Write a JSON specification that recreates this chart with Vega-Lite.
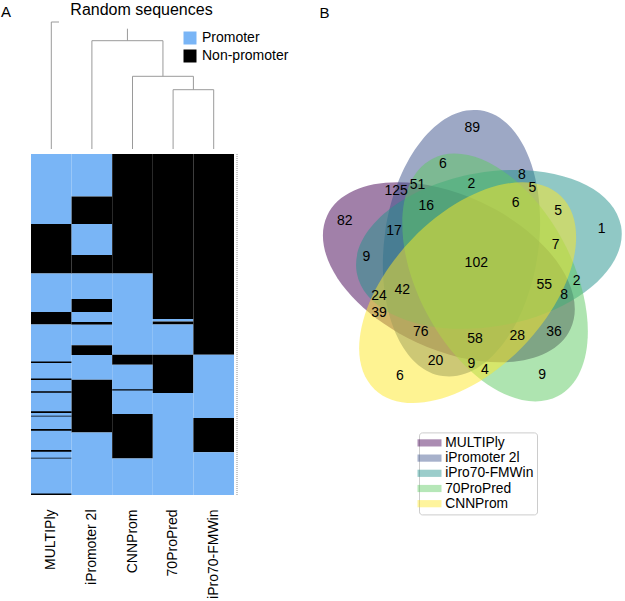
{
  "$schema": "https://vega.github.io/schema/vega-lite/v6.json",
  "background": "white",
  "padding": {"left": 0, "top": 2, "right": 0, "bottom": 0},
  "bounds": "flush",
  "spacing": 286,
  "resolve": {"scale": {"color": "independent"}, "legend": {"color": "independent"}},
  "config": {"font": "Liberation Sans", "view": {"stroke": null}},
  "datasets": {
    "heat": [
      {"model": "MULTIPly", "start": 0, "end": 70, "cls": "Promoter"},
      {"model": "MULTIPly", "start": 70, "end": 119.5, "cls": "Non-promoter"},
      {"model": "MULTIPly", "start": 119.5, "end": 158, "cls": "Promoter"},
      {"model": "MULTIPly", "start": 158, "end": 170.5, "cls": "Non-promoter"},
      {"model": "MULTIPly", "start": 170.5, "end": 341, "cls": "Promoter"},
      {"model": "MULTIPly", "start": 207.5, "end": 209, "cls": "Non-promoter"},
      {"model": "MULTIPly", "start": 224.5, "end": 226, "cls": "Non-promoter"},
      {"model": "MULTIPly", "start": 237.3, "end": 238.8, "cls": "Non-promoter"},
      {"model": "MULTIPly", "start": 257.3, "end": 259, "cls": "Non-promoter"},
      {"model": "MULTIPly", "start": 261.7, "end": 262.4, "cls": "Non-promoter"},
      {"model": "MULTIPly", "start": 275, "end": 276.7, "cls": "Non-promoter"},
      {"model": "MULTIPly", "start": 296, "end": 297.7, "cls": "Non-promoter"},
      {"model": "MULTIPly", "start": 303.7, "end": 304.4, "cls": "Non-promoter"},
      {"model": "MULTIPly", "start": 339.5, "end": 341, "cls": "Non-promoter"},
      {"model": "iPromoter 2l", "start": 0, "end": 42.5, "cls": "Promoter"},
      {"model": "iPromoter 2l", "start": 42.5, "end": 70, "cls": "Non-promoter"},
      {"model": "iPromoter 2l", "start": 70, "end": 101, "cls": "Promoter"},
      {"model": "iPromoter 2l", "start": 101, "end": 119.5, "cls": "Non-promoter"},
      {"model": "iPromoter 2l", "start": 119.5, "end": 145, "cls": "Promoter"},
      {"model": "iPromoter 2l", "start": 145, "end": 158, "cls": "Non-promoter"},
      {"model": "iPromoter 2l", "start": 158, "end": 168, "cls": "Promoter"},
      {"model": "iPromoter 2l", "start": 168, "end": 170.7, "cls": "Non-promoter"},
      {"model": "iPromoter 2l", "start": 170.7, "end": 191.3, "cls": "Promoter"},
      {"model": "iPromoter 2l", "start": 191.3, "end": 201, "cls": "Non-promoter"},
      {"model": "iPromoter 2l", "start": 201, "end": 225.7, "cls": "Promoter"},
      {"model": "iPromoter 2l", "start": 225.7, "end": 278.5, "cls": "Non-promoter"},
      {"model": "iPromoter 2l", "start": 278.5, "end": 341, "cls": "Promoter"},
      {"model": "CNNProm", "start": 0, "end": 119.5, "cls": "Non-promoter"},
      {"model": "CNNProm", "start": 119.5, "end": 200.7, "cls": "Promoter"},
      {"model": "CNNProm", "start": 200.7, "end": 210.7, "cls": "Non-promoter"},
      {"model": "CNNProm", "start": 210.7, "end": 260, "cls": "Promoter"},
      {"model": "CNNProm", "start": 260, "end": 304.5, "cls": "Non-promoter"},
      {"model": "CNNProm", "start": 304.5, "end": 341, "cls": "Promoter"},
      {"model": "CNNProm", "start": 235.3, "end": 236.5, "cls": "Non-promoter"},
      {"model": "70ProPred", "start": 0, "end": 165, "cls": "Non-promoter"},
      {"model": "70ProPred", "start": 165, "end": 167.5, "cls": "Promoter"},
      {"model": "70ProPred", "start": 167.5, "end": 170.5, "cls": "Non-promoter"},
      {"model": "70ProPred", "start": 170.5, "end": 200.7, "cls": "Promoter"},
      {"model": "70ProPred", "start": 200.7, "end": 239, "cls": "Non-promoter"},
      {"model": "70ProPred", "start": 239, "end": 341, "cls": "Promoter"},
      {"model": "iPro70-FMWin", "start": 0, "end": 200.7, "cls": "Non-promoter"},
      {"model": "iPro70-FMWin", "start": 200.7, "end": 264, "cls": "Promoter"},
      {"model": "iPro70-FMWin", "start": 264, "end": 298.3, "cls": "Non-promoter"},
      {"model": "iPro70-FMWin", "start": 298.3, "end": 341, "cls": "Promoter"}
    ],
    "sidebar": [{"model": "iPro70-FMWin", "start": 0, "end": 341}],
    "dendro": [
      {"x": 0.5, "x2": 0.5, "h": 0, "h2": 127},
      {"x": 0.5, "x2": 0.69, "h": 127, "h2": 127},
      {"x": 2.375, "x2": 2.375, "h": 108.3, "h2": 120.3},
      {"x": 1.5, "x2": 3.25, "h": 108.3, "h2": 108.3},
      {"x": 1.5, "x2": 1.5, "h": 0, "h2": 108.3},
      {"x": 3.25, "x2": 3.25, "h": 72.7, "h2": 108.3},
      {"x": 2.5, "x2": 4.0, "h": 72.7, "h2": 72.7},
      {"x": 2.5, "x2": 2.5, "h": 0, "h2": 72.7},
      {"x": 4.0, "x2": 4.0, "h": 59.3, "h2": 72.7},
      {"x": 3.5, "x2": 4.5, "h": 59.3, "h2": 59.3},
      {"x": 3.5, "x2": 3.5, "h": 0, "h2": 59.3},
      {"x": 4.5, "x2": 4.5, "h": 0, "h2": 59.3}
    ],
    "sets": [
      {"set": "MULTIPly", "cx": 0.428, "cy": 0.449},
      {"set": "iPromoter 2l", "cx": 0.469, "cy": 0.543},
      {"set": "iPro70-FMWin", "cx": 0.558, "cy": 0.523},
      {"set": "70ProPred", "cx": 0.578, "cy": 0.432},
      {"set": "CNNProm", "cx": 0.489, "cy": 0.383}
    ],
    "counts": [
      {"n": "89", "x": 0.504, "y": 0.916},
      {"n": "6", "x": 0.409, "y": 0.798},
      {"n": "8", "x": 0.665, "y": 0.763},
      {"n": "2", "x": 0.501, "y": 0.736},
      {"n": "5", "x": 0.699, "y": 0.722},
      {"n": "125", "x": 0.257, "y": 0.711},
      {"n": "51", "x": 0.326, "y": 0.730},
      {"n": "6", "x": 0.645, "y": 0.672},
      {"n": "16", "x": 0.355, "y": 0.663},
      {"n": "5", "x": 0.783, "y": 0.648},
      {"n": "82", "x": 0.090, "y": 0.614},
      {"n": "1", "x": 0.924, "y": 0.590},
      {"n": "17", "x": 0.250, "y": 0.582},
      {"n": "7", "x": 0.775, "y": 0.538},
      {"n": "9", "x": 0.160, "y": 0.498},
      {"n": "102", "x": 0.517, "y": 0.479},
      {"n": "2", "x": 0.843, "y": 0.420},
      {"n": "55", "x": 0.738, "y": 0.407},
      {"n": "42", "x": 0.277, "y": 0.391},
      {"n": "24", "x": 0.201, "y": 0.372},
      {"n": "8", "x": 0.802, "y": 0.374},
      {"n": "39", "x": 0.201, "y": 0.318},
      {"n": "76", "x": 0.337, "y": 0.256},
      {"n": "36", "x": 0.769, "y": 0.256},
      {"n": "58", "x": 0.513, "y": 0.232},
      {"n": "28", "x": 0.650, "y": 0.242},
      {"n": "20", "x": 0.385, "y": 0.161},
      {"n": "9", "x": 0.501, "y": 0.153},
      {"n": "4", "x": 0.545, "y": 0.132},
      {"n": "6", "x": 0.269, "y": 0.113},
      {"n": "9", "x": 0.731, "y": 0.117}
    ]
  },
  "hconcat": [
    {
      "bounds": "flush",
      "spacing": 5,
      "vconcat": [
        {
          "width": 203,
          "height": 129,
          "title": {"text": "Random sequences", "fontSize": 16, "fontWeight": "normal", "color": "black", "anchor": "middle", "frame": "group", "dx": 9, "offset": -11, "baseline": "alphabetic"},
          "data": {"name": "dendro"},
          "mark": {"type": "rule", "color": "#9a9a9a", "strokeWidth": 1},
          "encoding": {
            "x": {"field": "x", "type": "quantitative", "scale": {"domain": [0, 5], "nice": false, "zero": false}, "axis": null},
            "x2": {"field": "x2"},
            "y": {"field": "h", "type": "quantitative", "scale": {"domain": [0, 129], "nice": false}, "axis": null},
            "y2": {"field": "h2"}
          }
        },
        {
          "width": 203,
          "height": 341,
          "layer": [
            {
              "data": {"name": "heat"},
              "mark": {"type": "rect", "strokeWidth": 0},
              "encoding": {
                "x": {"field": "model", "type": "nominal", "sort": ["MULTIPly", "iPromoter 2l", "CNNProm", "70ProPred", "iPro70-FMWin"], "scale": {"domain": ["MULTIPly", "iPromoter 2l", "CNNProm", "70ProPred", "iPro70-FMWin"], "paddingInner": 0, "paddingOuter": 0},
                  "axis": {"title": null, "orient": "bottom", "labelAngle": 270, "ticks": false, "domain": false, "labelPadding": 14, "labelFontSize": 14, "labelColor": "black"}},
                "y": {"field": "start", "type": "quantitative", "scale": {"domain": [0, 341], "reverse": true, "nice": false, "zero": false},
                  "axis": {"title": "A", "labels": false, "ticks": false, "domain": false, "grid": false, "titleAngle": 0, "titleX": -25.5, "titleY": -138, "titleAlign": "center", "titleBaseline": "alphabetic", "titleFontSize": 15, "titleFontWeight": "normal", "titleColor": "black"}},
                "y2": {"field": "end"},
                "color": {"field": "cls", "type": "nominal", "scale": {"domain": ["Promoter", "Non-promoter"], "range": ["#79b5f6", "#000000"]},
                  "legend": {"title": null, "orient": "none", "legendX": 152, "legendY": 11, "symbolType": "square", "symbolSize": 169, "symbolStrokeWidth": 0, "symbolOpacity": 1, "labelFontSize": 14, "labelOffset": 5, "rowPadding": 4, "padding": 0, "labelColor": "black"}}
              }
            },
            {
              "data": {"name": "sidebar"},
              "mark": {"type": "rule", "color": "#c8c8c8", "strokeWidth": 2, "strokeDash": [1, 1], "xOffset": 3},
              "encoding": {
                "x": {"field": "model", "type": "nominal", "bandPosition": 1, "sort": ["MULTIPly", "iPromoter 2l", "CNNProm", "70ProPred", "iPro70-FMWin"]},
                "y": {"field": "start", "type": "quantitative"},
                "y2": {"field": "end"}
              }
            }
          ]
        }
      ]
    },
    {
      "width": 305,
      "height": 391,
      "encoding": {
        "x": {"field": "cx", "type": "quantitative", "scale": {"domain": [0, 0.99], "nice": false, "zero": false}, "axis": null},
        "y": {"field": "cy", "type": "quantitative", "scale": {"domain": [0, 1.2654], "nice": false, "zero": false},
          "axis": {"title": "B", "labels": false, "ticks": false, "domain": false, "grid": false, "titleAngle": 0, "titleX": 7, "titleY": -2.7, "titleAlign": "center", "titleBaseline": "alphabetic", "titleFontSize": 15, "titleFontWeight": "normal", "titleColor": "black"}}
      },
      "layer": [
        {
          "data": {"name": "sets"},
          "transform": [{"filter": "datum.set === 'MULTIPly'"}],
          "mark": {"type": "point", "shape": "M 1 0 C 1 0.3174 0.5523 0.5747 0 0.5747 C -0.5523 0.5747 -1 0.3174 -1 0 C -1 -0.3174 -0.5523 -0.5747 0 -0.5747 C 0.5523 -0.5747 1 -0.3174 1 0 Z", "size": 72039, "angle": 25, "filled": true, "fillOpacity": 0.5, "strokeWidth": 0},
          "encoding": {
            "color": {"field": "set", "type": "nominal", "scale": {"domain": ["MULTIPly", "iPromoter 2l", "iPro70-FMWin", "70ProPred", "CNNProm"], "range": ["#440154", "#3b528b", "#21918c", "#5ec962", "#fde725"]},
              "legend": {"title": null, "orient": "none", "legendX": 102, "legendY": 412.4, "symbolType": "M -1.6 -0.48 H 1.6 V 0.48 H -1.6 Z", "symbolSize": 225, "symbolOpacity": 0.45, "symbolStrokeWidth": 0, "labelFontSize": 13.8, "labelOffset": 8.2, "rowPadding": 0.2, "padding": 3, "strokeColor": "#cccccc", "fillColor": "white", "cornerRadius": 3, "labelColor": "black"}}
          }
        },
        {
          "data": {"name": "sets"},
          "transform": [{"filter": "datum.set === 'iPromoter 2l'"}],
          "mark": {"type": "point", "shape": "M 1 0 C 1 0.3174 0.5523 0.5747 0 0.5747 C -0.5523 0.5747 -1 0.3174 -1 0 C -1 -0.3174 -0.5523 -0.5747 0 -0.5747 C 0.5523 -0.5747 1 -0.3174 1 0 Z", "size": 72039, "angle": 98, "filled": true, "fillOpacity": 0.5, "strokeWidth": 0},
          "encoding": {"color": {"field": "set", "type": "nominal"}}
        },
        {
          "data": {"name": "sets"},
          "transform": [{"filter": "datum.set === 'iPro70-FMWin'"}],
          "mark": {"type": "point", "shape": "M 1 0 C 1 0.3174 0.5523 0.5747 0 0.5747 C -0.5523 0.5747 -1 0.3174 -1 0 C -1 -0.3174 -0.5523 -0.5747 0 -0.5747 C 0.5523 -0.5747 1 -0.3174 1 0 Z", "size": 72039, "angle": 170, "filled": true, "fillOpacity": 0.5, "strokeWidth": 0},
          "encoding": {"color": {"field": "set", "type": "nominal"}}
        },
        {
          "data": {"name": "sets"},
          "transform": [{"filter": "datum.set === '70ProPred'"}],
          "mark": {"type": "point", "shape": "M 1 0 C 1 0.3174 0.5523 0.5747 0 0.5747 C -0.5523 0.5747 -1 0.3174 -1 0 C -1 -0.3174 -0.5523 -0.5747 0 -0.5747 C 0.5523 -0.5747 1 -0.3174 1 0 Z", "size": 72039, "angle": 62, "filled": true, "fillOpacity": 0.5, "strokeWidth": 0},
          "encoding": {"color": {"field": "set", "type": "nominal"}}
        },
        {
          "data": {"name": "sets"},
          "transform": [{"filter": "datum.set === 'CNNProm'"}],
          "mark": {"type": "point", "shape": "M 1 0 C 1 0.3174 0.5523 0.5747 0 0.5747 C -0.5523 0.5747 -1 0.3174 -1 0 C -1 -0.3174 -0.5523 -0.5747 0 -0.5747 C 0.5523 -0.5747 1 -0.3174 1 0 Z", "size": 72039, "angle": 134, "filled": true, "fillOpacity": 0.5, "strokeWidth": 0},
          "encoding": {"color": {"field": "set", "type": "nominal"}}
        },
        {
          "data": {"name": "counts"},
          "mark": {"type": "text", "fontSize": 14, "color": "black", "baseline": "middle", "align": "center"},
          "encoding": {
            "x": {"field": "x", "type": "quantitative"},
            "y": {"field": "y", "type": "quantitative"},
            "text": {"field": "n"}
          }
        }
      ]
    }
  ]
}
